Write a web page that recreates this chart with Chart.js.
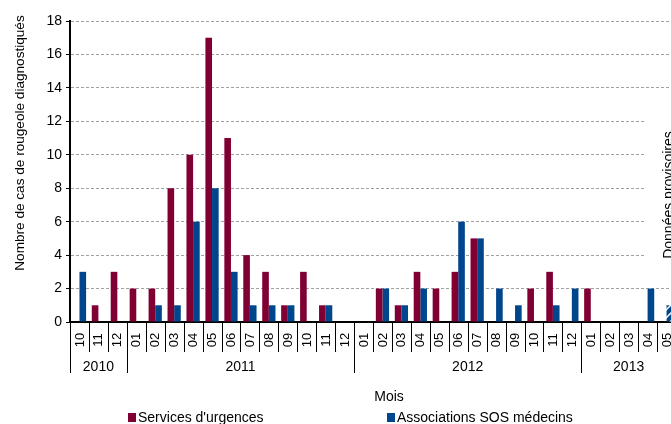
<!DOCTYPE html>
<html>
<head>
<meta charset="utf-8">
<script src="https://cdn.jsdelivr.net/npm/chart.js@4/dist/chart.umd.min.js"></script>
<style>
  html, body { margin: 0; padding: 0; background: #fff; overflow: hidden; }
  #wrap { width: 671px; height: 424px; overflow: hidden; }
</style>
</head>
<body>
<div id="wrap"><canvas id="chart" width="676" height="424"></canvas></div>
<script>
const months = ['10','11','12',
  '01','02','03','04','05','06','07','08','09','10','11','12',
  '01','02','03','04','05','06','07','08','09','10','11','12',
  '01','02','03','04','05'];
const yearLabels = ['2010', '2011', '2012', '2013'];
const yearCounts = [3, 12, 12, 5];

const urgences = [0, 1, 3,
  2, 2, 8, 10, 17, 11, 4, 3, 1, 3, 1, 0,
  0, 2, 1, 3, 2, 3, 5, 0, 0, 2, 3, 0,
  2, 0, 0, 0, 0];
const sos = [3, 0, 0,
  0, 1, 1, 6, 8, 3, 1, 1, 1, 0, 1, 0,
  0, 2, 1, 2, 0, 6, 5, 2, 1, 0, 1, 2,
  0, 0, 0, 2, 1];

const RED = '#800034';
const BLUE = '#00468c';
const FONT = '"Liberation Sans", Arial, sans-serif';

function hatch(color) {
  const c = document.createElement('canvas');
  c.width = 8; c.height = 8;
  const g = c.getContext('2d');
  g.fillStyle = color;
  g.fillRect(0, 0, 8, 8);
  g.strokeStyle = '#fff';
  g.lineWidth = 1.5;
  g.beginPath();
  g.moveTo(0, 8); g.lineTo(8, 0);
  g.stroke();
  return g.createPattern(c, 'repeat');
}

// last month is provisional -> hatched
const sosColors = sos.map((v, i) => i === sos.length - 1 ? hatch(BLUE) : BLUE);

const decor = {
  id: 'decor',
  beforeDatasetsDraw(chart) {
    const ctx = chart.ctx;
    const y = chart.scales.y;
    // white box behind the "Données provisoires" note
    ctx.save();
    ctx.fillStyle = '#fff';
    ctx.fillRect(646, y.getPixelForValue(13), 40, y.getPixelForValue(3) - y.getPixelForValue(13));
    ctx.restore();
  },
  afterDraw(chart) {
    const ctx = chart.ctx;
    const xs = chart.scales.x;
    const ys = chart.scales.y;
    const bottom = ys.bottom;
    const w = (xs.right - xs.left) / months.length;
    ctx.save();
    ctx.fillStyle = '#000';
    ctx.strokeStyle = '#000';
    ctx.lineWidth = 1;

    // month labels
    ctx.font = '13px ' + FONT;
    ctx.textAlign = 'center';
    ctx.textBaseline = 'middle';
    months.forEach((m, i) => {
      const x = xs.getPixelForValue(i);
      ctx.save();
      ctx.translate(x + 0.5, 340);
      ctx.rotate(-Math.PI / 2);
      ctx.fillText(m, 0, 0);
      ctx.restore();
    });
    // month separators
    ctx.beginPath();
    for (let i = 0; i <= months.length; i++) {
      const x = Math.round(xs.left + i * w) + 0.5;
      ctx.moveTo(x, bottom);
      ctx.lineTo(x, 352);
    }
    ctx.stroke();

    // years
    ctx.font = '14px ' + FONT;
    let start = 0;
    ctx.beginPath();
    yearLabels.forEach((yl, k) => {
      const x0 = xs.left + start * w;
      const x1 = xs.left + (start + yearCounts[k]) * w;
      ctx.moveTo(Math.round(x0) + 0.5, bottom);
      ctx.lineTo(Math.round(x0) + 0.5, 373);
      ctx.fillText(yl, (x0 + x1) / 2, 367);
      start += yearCounts[k];
    });
    ctx.stroke();

    // axis title x
    ctx.fillText('Mois', 389, 397);

    // axis title y
    ctx.save();
    ctx.font = '13.6px ' + FONT;
    ctx.translate(20, 143);
    ctx.rotate(-Math.PI / 2);
    ctx.fillText('Nombre de cas de rougeole diagnostiqués', 0, 0);
    ctx.restore();

    // provisional note
    ctx.save();
    ctx.font = '14px ' + FONT;
    ctx.translate(669, 195);
    ctx.rotate(-Math.PI / 2);
    ctx.fillText('Données provisoires', 0, 0);
    ctx.restore();

    // legend
    ctx.font = '14px ' + FONT;
    ctx.textAlign = 'left';
    chart.data.datasets.forEach((ds, i) => {
      const lx = [128, 387][i];
      ctx.fillStyle = ds.legendColor;
      ctx.fillRect(lx, 413, 8, 9);
      ctx.fillStyle = '#000';
      ctx.fillText(ds.label, lx + 10, 418);
    });
    ctx.restore();
  }
};

new Chart(document.getElementById('chart'), {
  type: 'bar',
  data: {
    labels: months,
    datasets: [
      { label: "Services d'urgences", data: urgences, backgroundColor: RED, legendColor: RED,
        barPercentage: 1, categoryPercentage: 0.7 },
      { label: 'Associations SOS médecins', data: sos, backgroundColor: sosColors, legendColor: BLUE,
        barPercentage: 1, categoryPercentage: 0.7 }
    ]
  },
  options: {
    responsive: false,
    animation: false,
    devicePixelRatio: 1,
    layout: { padding: { top: 21, left: 0, right: 0, bottom: 0 } },
    plugins: { legend: { display: false }, tooltip: { enabled: false } },
    scales: {
      x: {
        ticks: { display: false },
        grid: { display: false },
        border: { display: true, color: '#000', width: 2 },
        afterFit(scale) { scale.height = 102; }
      },
      y: {
        min: 0,
        max: 18,
        ticks: { stepSize: 2, color: '#000', font: { size: 14, family: FONT }, padding: 4 },
        grid: {
          color: ctx => ctx.tick && ctx.tick.value === 0 ? 'rgba(0,0,0,0)' : '#a0a0a0',
          tickColor: '#000',
          tickLength: 4,
          lineWidth: 1
        },
        border: { display: true, color: '#000', width: 2, dash: [3, 2] },
        afterFit(scale) { scale.width = 70; }
      }
    }
  },
  plugins: [decor]
});
</script>
</body>
</html>
